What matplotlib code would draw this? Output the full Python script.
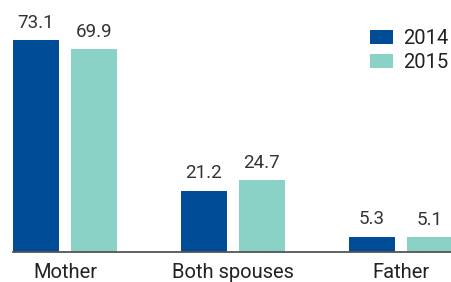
import matplotlib
matplotlib.use("Agg")
import matplotlib.pyplot as plt
import numpy as np

categories = ["Mother", "Both spouses", "Father"]
series_names = ["2014", "2015"]
values_2014 = [73.1, 21.2, 5.3]
values_2015 = [69.9, 24.7, 5.1]

colors = ["#004C97", "#8AD2C6"]
plt.rcParams['font.family'] = ['Roboto', 'DejaVu Sans']

W, H = 452, 282
fig = plt.figure(figsize=(W/100, H/100), dpi=100)
ax = fig.add_axes([13/W, 30/H, (452-13)/W, (252-10)/H])

x = np.arange(len(categories))
bw = 46/168
off = 29/168
b1 = ax.bar(x - off, values_2014, bw, color=colors[0], label=series_names[0])
b2 = ax.bar(x + off, values_2015, bw, color=colors[1], label=series_names[1])

for bars, vals in ((b1, values_2014), (b2, values_2015)):
    for r, v in zip(bars, vals):
        ax.annotate(f"{v:.1f}", (r.get_x() + r.get_width()/2, r.get_height()),
                    xytext=(0, 6), textcoords="offset points",
                    ha="center", va="bottom", fontsize=13.5, color="#333333")

ax.set_xlim(-0.3095, 2.3065)
ax.set_ylim(0, 73.1*242/212)
ax.set_xticks(x)
ax.set_xticklabels(categories, fontsize=14.5, color="#222222")
ax.tick_params(axis='x', length=0, pad=8)
ax.set_yticks([])
for s in ["top", "right", "left"]:
    ax.spines[s].set_visible(False)
ax.spines["bottom"].set_color("#555555")
ax.spines["bottom"].set_linewidth(1.3)

ax.legend(loc="upper right", bbox_to_anchor=(1.01, 0.955), frameon=False,
          fontsize=14.5, handlelength=1.15, handleheight=0.75, handletextpad=0.5,
          labelspacing=0.25, borderaxespad=0, labelcolor="#222222")

fig.savefig("out.png", dpi=100)
